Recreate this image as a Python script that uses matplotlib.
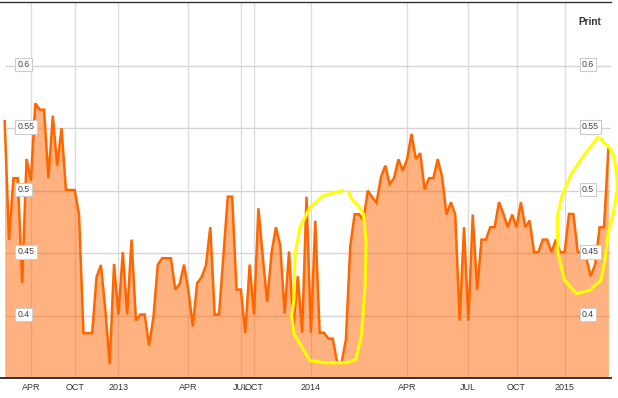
import matplotlib
matplotlib.use('Agg')
import matplotlib.pyplot as plt
import numpy as np

plt.rcParams['font.family'] = ['Liberation Sans', 'DejaVu Sans']

# значения ряда (по одной точке на шаг)
values = [
    0.5555, 0.4605, 0.510, 0.510, 0.4259, 0.5253, 0.508, 0.5699, 0.5648, 0.5648,
    0.510, 0.560, 0.520, 0.550, 0.5005, 0.5005, 0.5005, 0.4808, 0.3859, 0.3859,
    0.3859, 0.4307, 0.4405, 0.405, 0.3613, 0.4413, 0.4008, 0.4507, 0.4008, 0.4608,
    0.396, 0.4008, 0.4008, 0.376, 0.3987, 0.4408, 0.4459, 0.4459, 0.4459, 0.4208,
    0.4253, 0.4408, 0.420, 0.3912, 0.4259, 0.4307, 0.4400, 0.4707, 0.4008, 0.4008,
    0.448, 0.4952, 0.4952, 0.4208, 0.4208, 0.3859, 0.4408, 0.4008, 0.4859, 0.447,
    0.4109, 0.4501, 0.4707, 0.456, 0.4016, 0.4513, 0.3915, 0.4314, 0.3862, 0.4952,
    0.3862, 0.4758, 0.3862, 0.3862, 0.3815, 0.3815, 0.3622, 0.3622, 0.3805, 0.4555,
    0.4811, 0.4811, 0.4761, 0.500, 0.4947, 0.4903, 0.5106, 0.520, 0.5053, 0.510,
    0.525, 0.516, 0.5253, 0.5453, 0.5253, 0.530, 0.5008, 0.510, 0.510, 0.5253,
    0.5107, 0.4808, 0.4907, 0.4808, 0.396, 0.4707, 0.396, 0.4808, 0.4208, 0.4608,
    0.4608, 0.4707, 0.4707, 0.4907, 0.4814, 0.4707, 0.4808, 0.4707, 0.4907, 0.4707,
    0.476, 0.4507, 0.4507, 0.4608, 0.4608, 0.4507, 0.4608, 0.4507, 0.4507, 0.4813,
    0.4813, 0.4507, 0.4507, 0.445, 0.4314, 0.4413, 0.4707, 0.4707, 0.5333,
]

# подписи оси X и номера точек, где они стоят
tick_labels = ['APR', 'OCT', '2013', 'APR', 'JUL', 'OCT', '2014', 'APR', 'JUL', 'OCT', '2015']
tick_idx = [6, 16, 26, 42, 54, 57, 70, 92, 106, 117, 128]
y_levels = [0.4, 0.45, 0.5, 0.55, 0.6]
y_names = ['0.4', '0.45', '0.5', '0.55', '0.6']

# жёлтые пометки от руки
mark1_x = [77.3, 72.8, 69.8, 67.5, 66.4, 66.1, 65.6, 66.1, 67.9, 69.8, 73.6, 78.2,
           80.3, 81.6, 82.4, 82.6, 82.0, 80.8, 79.9, 79.1, 78.7]
mark1_y = [0.500, 0.496, 0.4867, 0.4707, 0.4495, 0.412, 0.400, 0.3856, 0.375, 0.3638,
           0.3622, 0.3622, 0.365, 0.3856, 0.4255, 0.460, 0.4814, 0.488, 0.4907, 0.4947, 0.4987]
mark2_x = [135.6, 132.6, 129.5, 127.3, 126.3, 126.5, 128.0, 130.7, 133.7, 136.3, 137.2,
           137.9, 139.1, 140.1, 139.8, 139.1, 137.9, 136.8, 136.4]
mark2_y = [0.5426, 0.5293, 0.5133, 0.4947, 0.4787, 0.4495, 0.4282, 0.4176, 0.4202, 0.4282,
           0.4441, 0.4654, 0.4814, 0.5027, 0.516, 0.5293, 0.536, 0.5386, 0.5413]

x = np.arange(len(values))

fig = plt.figure(figsize=(6.18, 3.98), dpi=100)
ax = fig.add_axes([0, 20 / 398, 611 / 618, 376 / 398])

ax.fill_between(x, values, 0.3, color='#ff6600', alpha=0.5, lw=0, zorder=2)
ax.plot(x, values, color='#ff6600', lw=1.8, zorder=3, solid_joinstyle='miter')

ax.plot(mark1_x, mark1_y, color='#ffff00', lw=2.2, zorder=4, clip_on=False)
ax.plot(mark2_x, mark2_y, color='#ffff00', lw=2.2, zorder=4, clip_on=False)

ax.set_xlim(-1.07, 138.6)
ax.set_ylim(0.35, 0.651)

ax.set_xticks(tick_idx)
ax.set_xticklabels(tick_labels, fontsize=6.5, color='#333333')
ax.tick_params(axis='x', length=0, pad=3.5)
ax.set_yticks([])

for xv in tick_idx:
    ax.axvline(xv, color='#dddddd', lw=1.0, zorder=1)
for yv in y_levels:
    ax.axhline(yv, xmin=6 / 611, color='#d6d6d6', lw=1.0, zorder=1)

trans = ax.get_yaxis_transform()
for yv, name in zip(y_levels, y_names):
    for xa in (17.5 / 611, 582 / 611):
        ax.text(xa, yv + 0.001, name, transform=trans, fontsize=6.3, color='#444444',
                va='center', ha='left', zorder=5,
                bbox=dict(boxstyle='square,pad=0.25', fc='white', ec='#cccccc', lw=0.8))

ax.text(590 / 611, 0.635, 'Print', transform=trans, fontsize=7.2, fontweight='bold',
        color='#333333', ha='center', va='center')

for side in ['left', 'right']:
    ax.spines[side].set_visible(False)
ax.spines['top'].set_color('#333333')
ax.spines['top'].set_linewidth(1.0)
ax.spines['bottom'].set_color('#333333')
ax.spines['bottom'].set_linewidth(1.4)

fig.savefig('out.png', dpi=100)
